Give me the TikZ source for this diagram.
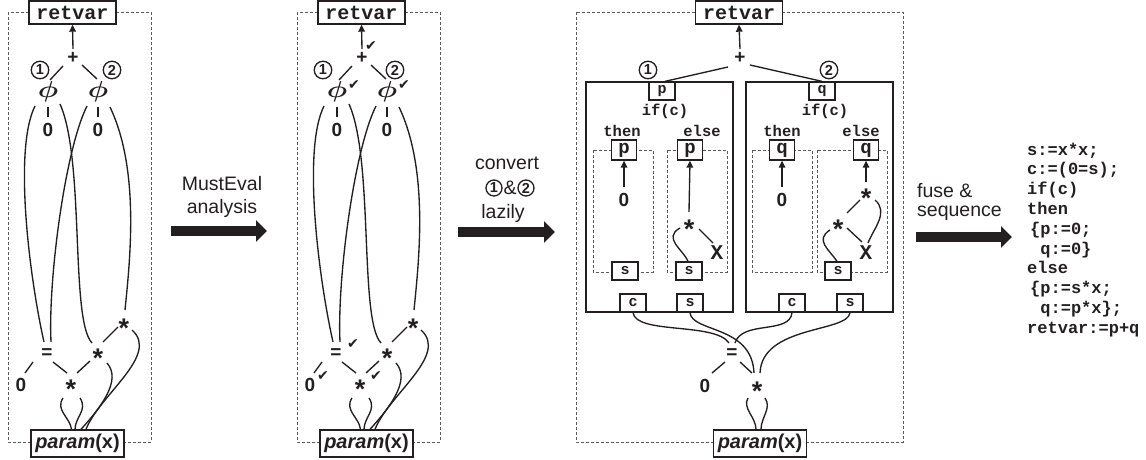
\RequirePackage{fix-cm}
\documentclass[tikz,border=0pt]{standalone}
\usepackage{bm}
\usepackage{graphicx}
\usepackage{fontspec}
\setmainfont{Liberation Sans}
\newfontfamily\cour{Liberation Mono}
\newfontfamily\djv{DejaVu Sans}
\usetikzlibrary{arrows.meta,calc}
\definecolor{ink}{HTML}{231F20}
\definecolor{dashc}{HTML}{5A5A5A}
\newcommand\starglyph{\raisebox{-8.5pt}{\fontsize{27}{27}\selectfont *}}
\newcommand\phiglyph{\scalebox{1.3}[1.05]{$\bm{\phi}$}}
\tikzset{
 wire/.style={draw=ink, line width=1.35pt},
 arr/.style={wire, -{Triangle[length=7pt,width=6.5pt]}},
 dbox/.style={draw=dashc, line width=0.9pt, dash pattern=on 3pt off 2pt},
 bigbox/.style={draw=ink, line width=1.4pt},
 retbox/.style={draw=ink, fill=white, line width=1.4pt, minimum width=87pt, minimum height=23pt, inner sep=0pt, text=ink, font=\cour\bfseries\fontsize{20}{20}\selectfont},
 parbox/.style={draw=ink, fill=white, line width=1.4pt, minimum width=93pt, minimum height=27pt, inner sep=0pt, text=ink, font=\bfseries\fontsize{20}{20}\selectfont},
 op/.style={inner sep=0pt, text=ink, font=\bfseries\fontsize{19}{19}\selectfont, text height=13.6pt, text depth=0pt},
 phin/.style={inner sep=0pt, text=ink, font=\fontsize{22}{22}\selectfont},
 chk/.style={inner sep=0pt, text=ink, font=\djv\fontsize{14}{14}\selectfont},
 circnum/.style={circle, draw=ink, line width=1.3pt, minimum size=17.5pt, inner sep=0pt, text=ink, font=\bfseries\fontsize{14.5}{14.5}\selectfont},
 bigarrow/.style={draw=ink, line width=9.5pt, -{Triangle[length=11pt,width=21pt]}},
 lbl/.style={inner sep=0pt, anchor=base, text=ink, font=\fontsize{19.5}{20}\selectfont},
 codeln/.style={inner sep=0pt, anchor=base west, text=ink, font=\cour\bfseries\fontsize{17}{17}\selectfont},
 tbox/.style={draw=ink, fill=white, line width=1.3pt, minimum width=26pt, minimum height=18pt, inner sep=0pt, text=ink, font=\cour\bfseries\fontsize{15}{15}\selectfont},
 pbx/.style={draw=ink, fill=white, line width=1.3pt, minimum width=25pt, minimum height=20pt, inner sep=0pt, text=ink, font=\cour\bfseries\fontsize{19}{19}\selectfont},
 cw/.style={inner sep=0pt, text=ink, font=\cour\bfseries\fontsize{15.5}{16}\selectfont},
 xw/.style={inner sep=0pt, text=ink, font=\cour\bfseries\fontsize{21}{21}\selectfont},
}
% #1 suffix, #2 x-offset, #3 checks (1/0), #4 circle x-shift
\newcommand\leftpanel[4]{%
 \draw[dbox] (#2+8,12) rectangle (#2+151,442);
 \node[retbox] (ret#1) at (#2+72.5,12.5) {retvar};
 \node[parbox] (par#1) at (#2+77.5,443.5) {\textit{param}(x)};
 \node[op] (plus#1) at (#2+73,57) {+};
 \node[circnum] (ca#1) at (#2+#4+40,70) {1};
 \node[circnum] (cb#1) at (#2+#4+112,70) {2};
 \node[phin] (phia#1) at (#2+48,92) {\phiglyph};
 \node[phin] (phib#1) at (#2+98,92) {\phiglyph};
 \node[op] (za#1) at (#2+48,130) {0};
 \node[op] (zb#1) at (#2+98,130) {0};
 \node[op] (eq#1) at (#2+47,352) {=};
 \node[op] (zc#1) at (#2+21,385) {0};
 \node[op] (sb#1) at (#2+71,383) {\starglyph};
 \node[op] (sm#1) at (#2+98,352) {\starglyph};
 \node[op] (st#1) at (#2+124,322) {\starglyph};
 \draw[arr] ($(plus#1)+(0,-8)$) -- (ret#1.south);
 \draw[wire] ($(plus#1)+(-10,9)$) -- ($(phia#1)+(2,-12)$);
 \draw[wire] ($(plus#1)+(9,8)$) -- ($(phib#1)+(-1,-13)$);
 \draw[wire] ($(phia#1)+(0,15)$) -- ($(za#1)+(0,-13)$);
 \draw[wire] ($(phib#1)+(0,15)$) -- ($(zb#1)+(0,-13)$);
 \draw[wire] ($(eq#1)+(-14,10)$) -- ($(zc#1)+(4,-12)$);
 \draw[wire] ($(eq#1)+(6,10)$) -- ($(sb#1)+(-4,-10)$);
 \draw[wire] ($(sm#1)+(-8,9)$) -- ($(sb#1)+(6,-10)$);
 \draw[wire] ($(st#1)+(-6,5)$) -- ($(sm#1)+(5,-10)$);
 \draw[wire] ($(phia#1)+(-13,14)$) .. controls +(-22,44) and +(-14,-62) .. ($(eq#1)+(-3,-10)$);
 \draw[wire] ($(phib#1)+(-11,14)$) .. controls +(-22,44) and +(-3,-62) .. ($(eq#1)+(4,-10)$);
 \draw[wire] ($(phia#1)+(12,12)$) .. controls +(25,56) and +(-22,-23) .. ($(sm#1)+(-6,-9)$);
 \draw[wire] ($(phib#1)+(12,15)$) .. controls +(30,63) and +(5,-50) .. ($(st#1)+(1,-12)$);
 \draw[wire] ($(sb#1)+(-8,15)$) .. controls +(-8,12) and +(-1.5,-12) .. ($(par#1.north)+(-6,0)$);
 \draw[wire] ($(sb#1)+(9,15)$) .. controls +(8,12) and +(0,-12) .. ($(par#1.north)+(-2.5,0)$);
 \draw[wire] ($(sm#1)+(9,11)$) .. controls +(15,17) and +(20,-22) .. ($(par#1.north)+(3.5,0)$);
 \draw[wire] ($(st#1)+(8,8)$) .. controls +(28,25) and +(14,-35) .. ($(par#1.north)+(8.5,0)$);
 \ifnum#3=1
  \node[chk] (kp#1) at ($(plus#1)+(9,-11)$) {✔};
  \node[chk] (ka#1) at ($(phia#1)+(17,-7)$) {✔};
  \node[chk] (kb#1) at ($(phib#1)+(17,-7)$) {✔};
  \node[chk] (ke#1) at ($(eq#1)+(17,-8)$) {✔};
  \node[chk] (kz#1) at ($(zc#1)+(13,-9)$) {✔};
  \node[chk] (ks#1) at ($(sb#1)+(16,-7)$) {✔};
 \fi
}
\begin{document}
\begin{tikzpicture}[x=1pt,y=-1pt]
\useasboundingbox (0,0) rectangle (1146,460);
\leftpanel{a}{0}{0}{0}
\leftpanel{b}{289}{1}{-6}

% ---- arrows between panels
\coordinate (a1s) at (171,231); \coordinate (a1e) at (267,231);
\draw[bigarrow] (a1s) -- (a1e);
\node[lbl] (l1a) at (222,190) {MustEval};
\node[lbl] (l1b) at (222,213) {analysis};
\coordinate (a2s) at (458,232); \coordinate (a2e) at (555,232);
\draw[bigarrow] (a2s) -- (a2e);
\node[lbl] (l2a) at (507,169) {convert};
\node[circnum, minimum size=16pt] (l2c1) at (494,188) {1};
\node[lbl, anchor=center] (l2amp) at (510,188) {\&};
\node[circnum, minimum size=16pt] (l2c2) at (526,188) {2};
\node[lbl] (l2b) at (503,218) {lazily};
\coordinate (a3s) at (916,237); \coordinate (a3e) at (1012,237);
\draw[bigarrow] (a3s) -- (a3e);
\node[lbl, anchor=base west] (l3a) at (917,197) {fuse \&};
\node[lbl, anchor=base west] (l3b) at (917,216) {sequence};

% ---- panel 3
\draw[dbox] (576,12) rectangle (903,442);
\draw[bigbox] (586,82) rectangle (733,312);
\draw[bigbox] (746,82) rectangle (893,312);
\draw[dbox] (593,150) rectangle (653,272);
\draw[dbox] (667,150) rectangle (727,272);
\draw[dbox] (752,150) rectangle (812,272);
\draw[dbox] (817,150) rectangle (887,272);
\node[retbox] (retc) at (739,12.5) {retvar};
\node[parbox] (parc) at (760,443.5) {\textit{param}(x)};
\node[op] (plusc) at (740,57) {+};
\node[circnum] (cac) at (648,70) {1};
\node[circnum] (cbc) at (829,70) {2};
\node[tbox] (ptop) at (662,91) {p};
\node[tbox] (qtop) at (822,91) {q};
\node[cw] (ifl) at (665,111) {if(c)};
\node[cw] (ifr) at (825,111) {if(c)};
\node[cw] (thl) at (622,130.5) {then};
\node[cw] (ell) at (702,130.5) {else};
\node[cw] (thr) at (782,130.5) {then};
\node[cw] (elr) at (861,130.5) {else};
\node[pbx] (pth) at (624,150) {p};
\node[pbx] (pel) at (690,150) {p};
\node[pbx] (qth) at (782,150) {q};
\node[pbx] (qel) at (866,150) {q};
\node[op] (zlt) at (624,200) {0};
\node[op] (zrt) at (782,200) {0};
\node[op] (sle) at (689,223) {\starglyph};
\node[xw] (xle) at (717,253) {X};
\node[tbox] (ssle) at (689,271) {s};
\node[tbox] (sslt) at (625,271) {s};
\node[op] (srt) at (866,192) {\starglyph};
\node[op] (srl) at (838,223) {\starglyph};
\node[xw] (xr) at (866,253) {X};
\node[tbox] (ssre) at (838,271) {s};
\node[tbox] (cl) at (633,303) {c};
\node[tbox] (sl) at (690,303) {s};
\node[tbox] (cr) at (792,303) {c};
\node[tbox] (sr) at (850,303) {s};
\node[op] (eqc) at (732,352) {=};
\node[op] (zc3) at (705,386) {0};
\node[op] (stc) at (757,385) {\starglyph};

\draw[arr] ($(plusc)+(0,-8)$) -- (retc.south);
\draw[wire] ($(plusc)+(-12,10)$) -- ($(ptop.north)+(3,0)$);
\draw[wire] ($(plusc)+(10,8)$) -- (qtop.north);
\draw[arr] ($(zlt)+(0,-13)$) -- (pth.south);
\draw[arr] ($(zrt)+(0,-13)$) -- (qth.south);
\draw[arr] ($(sle)+(0,-11)$) -- (pel.south);
\draw[arr] ($(srt)+(0,-10)$) -- (qel.south);
\draw[wire] ($(sle)+(10,6)$) -- ($(xle)+(-4,-10)$);
\draw[wire] ($(sle)+(-9,5)$) .. controls +(-18,10) and +(-4,-11) .. ($(ssle.north)+(-1,0)$);
\draw[wire] ($(srt)+(-6,8)$) -- ($(srl)+(9,-10)$);
\draw[wire] ($(srl)+(9,5)$) -- ($(xr)+(-4,-11)$);
\draw[wire] ($(srt)+(9,8)$) .. controls +(14,12) and +(6,-15) .. ($(xr)+(2,-10)$);
\draw[wire] ($(srl)+(-8,7)$) .. controls +(-16,10) and +(-7,-11) .. ($(ssre.north)+(-1,0)$);
\draw[wire] ($(eqc)+(-7,10)$) -- ($(zc3)+(7,-13)$);
\draw[wire] ($(eqc)+(8,10)$) -- ($(stc)+(-5,-12)$);
\draw[wire] (cl.south) .. controls +(3,22) and +(-14,-21) .. ($(eqc)+(-3,-9)$);
\draw[wire] (cr.south) .. controls +(-2,22) and +(7,-23) .. ($(eqc)+(3,-9)$);
\draw[wire] (sl.south) .. controls +(2,20) and +(-2,-48) .. ($(stc)+(-3,-12)$);
\draw[wire] (sr.south) .. controls +(-2,20) and +(2,-48) .. ($(stc)+(3,-12)$);
\draw[wire] ($(stc)+(-9,13)$) .. controls +(-6,10) and +(0,-12) .. ($(parc.north)+(-4,0)$);
\draw[wire] ($(stc)+(8,13)$) .. controls +(7,10) and +(0,-12) .. ($(parc.north)+(1,0)$);

% ---- code
\node[codeln] (k0) at (1027,155) {s:=x*x;};
\node[codeln] (k1) at (1027,174.8) {c:=(0=s);};
\node[codeln] (k2) at (1027,194.6) {if(c)};
\node[codeln] (k3) at (1027,214.4) {then};
\node[codeln] (k4) at (1027,234.2) {\hspace*{3pt}\{p:=0;};
\node[codeln] (k5) at (1027,254) {\hspace*{3pt}\phantom{\{}q:=0\}};
\node[codeln] (k6) at (1027,273.8) {else};
\node[codeln] (k7) at (1027,293.6) {\hspace*{3pt}\{p:=s*x;};
\node[codeln] (k8) at (1027,313.4) {\hspace*{3pt}\phantom{\{}q:=p*x\};};
\node[codeln] (k9) at (1027,333.2) {retvar:=p+q};
\end{tikzpicture}
\end{document}
